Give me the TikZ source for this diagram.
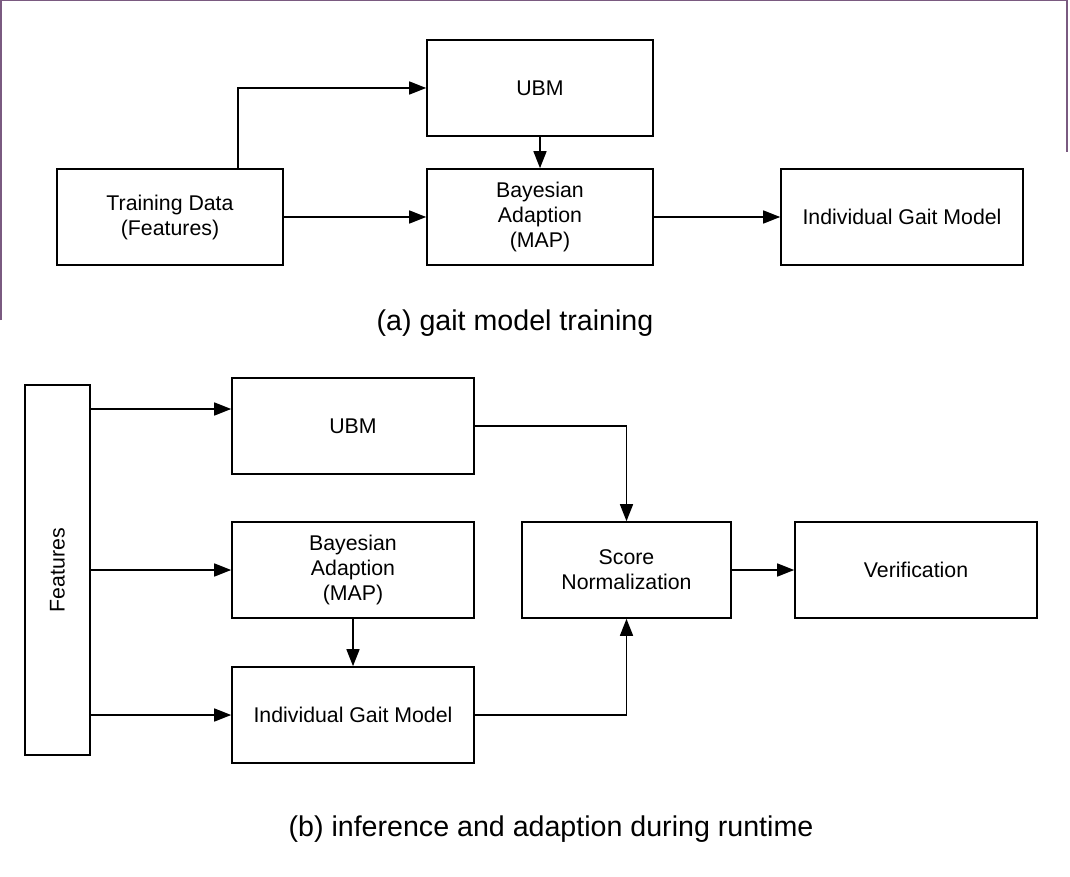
\documentclass[tikz,border=0pt]{standalone}
\usepackage{fontspec}
\setmainfont{Liberation Sans}
\usetikzlibrary{arrows.meta}
\definecolor{frame}{HTML}{7A5A80}
\begin{document}
\begin{tikzpicture}[x=1pt,y=-1pt,
  blk/.style={draw,line width=1.6pt,minimum width=#1,inner sep=0pt,align=center,font=\fontsize{21.3}{25}\selectfont},
  blk/.default=242pt,
  arr/.style={line width=1.5pt,-{Triangle[length=17pt,width=13pt]}},
  captxt/.style={font=\fontsize{28.6}{32}\selectfont}]
\useasboundingbox (0,0) rectangle (1070,877);
\draw[frame,line width=1.5pt] (0.75,320) -- (0.75,0.75) -- (1067,0.75) -- (1067,152);
% (a)
\node[blk=226pt,minimum height=96pt] (td) at (170,217) {Training Data\\(Features)};
\node[blk=226pt,minimum height=96pt] (ubma) at (540,88) {UBM};
\node[blk=226pt,minimum height=96pt] (bayesa) at (540,217) {Bayesian\\Adaption\\(MAP)};
\node[blk=242pt,minimum height=96pt] (igma) at (902,217) {Individual Gait Model};
\coordinate (c1) at (238,0);
\draw[arr] (td.north -| c1) |- (ubma.west);
\draw[arr] (td.east) -- (bayesa.west);
\draw[arr] (ubma.south) -- (bayesa.north);
\draw[arr] (bayesa.east) -- (igma.west);
\node[captxt] (capa) at (515,323) {(a) gait model training};
% (b)
\node[draw,line width=1.6pt,minimum width=65pt,minimum height=370pt,inner sep=0pt] (feat) at (57.5,570) {};
\node[rotate=90,font=\fontsize{21.3}{25}\selectfont] (featt) at (57.5,570) {Features};
\node[blk,minimum height=96pt] (ubmb) at (353,426) {UBM};
\node[blk,minimum height=96pt] (bayesb) at (353,570) {Bayesian\\Adaption\\(MAP)};
\node[blk,minimum height=96pt] (igmb) at (353,715) {Individual Gait Model};
\node[blk=209pt,minimum height=96pt] (score) at (626.5,570) {Score\\Normalization};
\node[blk,minimum height=96pt] (ver) at (916,570) {Verification};
\coordinate (fu) at (0,409);
\draw[arr] (feat.east |- fu) -- (ubmb.west |- fu);
\draw[arr] (feat.east |- bayesb.west) -- (bayesb.west);
\draw[arr] (feat.east |- igmb.west) -- (igmb.west);
\draw[arr] (ubmb.east) -| (score.north);
\draw[arr] (igmb.east) -| (score.south);
\draw[arr] (bayesb.south) -- (igmb.north);
\draw[arr] (score.east) -- (ver.west);
\node[captxt] (capb) at (551,829) {(b) inference and adaption during runtime};
\end{tikzpicture}
\end{document}
